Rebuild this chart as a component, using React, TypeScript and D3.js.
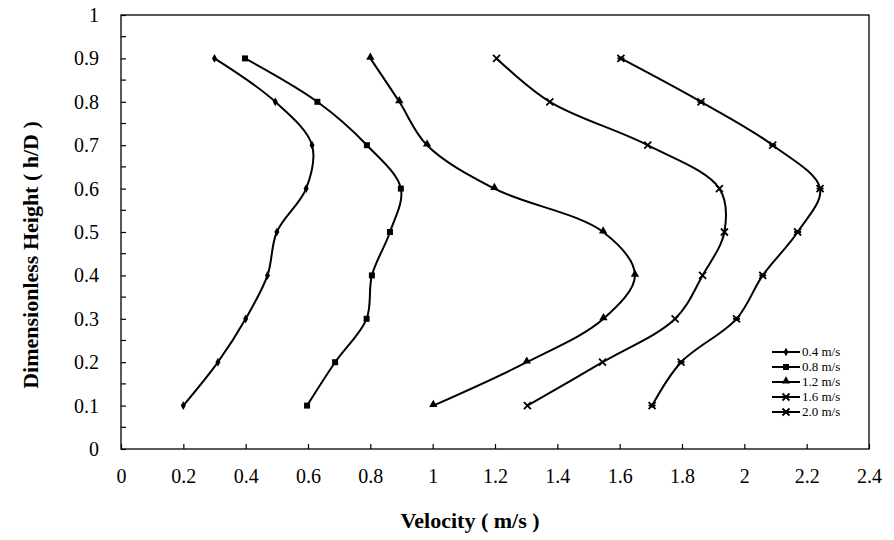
import React, { useRef, useEffect } from "react";
import * as d3 from "d3";

// heights (h/D) shared by every profile
const heights = [0.9, 0.8, 0.7, 0.6, 0.5, 0.4, 0.3, 0.2, 0.1];

const v04 = [0.3, 0.495, 0.613, 0.594, 0.5, 0.47, 0.4, 0.311, 0.2];
const v08 = [0.398, 0.63, 0.789, 0.898, 0.863, 0.805, 0.788, 0.687, 0.597];
const v12 = [0.8, 0.893, 0.982, 1.198, 1.547, 1.649, 1.548, 1.302, 1.002];
const v16 = [1.205, 1.376, 1.69, 1.92, 1.936, 1.866, 1.778, 1.545, 1.304];
const v20 = [1.604, 1.861, 2.091, 2.243, 2.171, 2.059, 1.975, 1.797, 1.704];

const seriesNames = ["0.4 m/s", "0.8 m/s", "1.2 m/s", "1.6 m/s", "2.0 m/s"];
const seriesValues = [v04, v08, v12, v16, v20];
const markerKinds = ["diamond", "square", "triangle", "cross", "star"];

const xTicks = [0, 0.2, 0.4, 0.6, 0.8, 1, 1.2, 1.4, 1.6, 1.8, 2, 2.2, 2.4];
const yTicks = [0, 0.1, 0.2, 0.3, 0.4, 0.5, 0.6, 0.7, 0.8, 0.9, 1];

const FONT = "Liberation Serif, Times New Roman, serif";

const drawMarker = (g, kind, x, y) => {
  if (kind === "diamond") {
    g.append("path")
      .attr("d", d3.symbol(d3.symbolDiamond, 22)())
      .attr("transform", `translate(${x},${y})`)
      .attr("fill", "black");
  } else if (kind === "square") {
    g.append("rect")
      .attr("x", x - 3).attr("y", y - 3)
      .attr("width", 6).attr("height", 6)
      .attr("fill", "black");
  } else if (kind === "triangle") {
    g.append("path")
      .attr("d", d3.symbol(d3.symbolTriangle, 30)())
      .attr("transform", `translate(${x},${y - 1})`)
      .attr("fill", "black");
  } else if (kind === "cross") {
    g.append("path")
      .attr("d", `M${x - 3.5},${y - 3.5}L${x + 3.5},${y + 3.5}M${x - 3.5},${y + 3.5}L${x + 3.5},${y - 3.5}`)
      .attr("stroke", "black").attr("stroke-width", 1.8);
  } else {
    g.append("path")
      .attr("d", `M${x - 3.5},${y - 3.5}L${x + 3.5},${y + 3.5}M${x - 3.5},${y + 3.5}L${x + 3.5},${y - 3.5}M${x - 3.5},${y}L${x + 3.5},${y}`)
      .attr("stroke", "black").attr("stroke-width", 1.8);
    g.append("rect")
      .attr("x", x - 2).attr("y", y - 2)
      .attr("width", 4).attr("height", 4)
      .attr("fill", "black");
  }
};

const App = () => {
  const ref = useRef(null);
  const width = 894;
  const height = 540;

  useEffect(() => {
    const svg = d3.select(ref.current);
    svg.selectAll("*").remove();

    const margin = { top: 15, right: 25, bottom: 91, left: 121 };
    const innerWidth = width - margin.left - margin.right;
    const innerHeight = height - margin.top - margin.bottom;

    const xScale = d3.scaleLinear().domain([0, 2.4]).range([0, innerWidth]);
    const yScale = d3.scaleLinear().domain([0, 1]).range([innerHeight, 0]);

    const g = svg.append("g").attr("transform", `translate(${margin.left},${margin.top})`);

    // frame
    g.append("rect")
      .attr("width", innerWidth).attr("height", innerHeight)
      .attr("fill", "none").attr("stroke", "black").attr("stroke-width", 1.3);

    // x ticks (inside)
    const xAxis = d3.axisBottom(xScale).tickValues(xTicks).tickSize(-5).tickPadding(20)
      .tickFormat((d) => d3.format("~g")(d));
    const xAxisG = g.append("g").attr("transform", `translate(0,${innerHeight})`).call(xAxis);
    xAxisG.select(".domain").remove();
    xAxisG.selectAll("line").attr("stroke-width", 1.2);
    xAxisG.selectAll("text").attr("font-family", FONT).attr("font-size", 20).attr("fill", "black");

    // y ticks (inside), minor every 0.05
    const yMinor = d3.range(0.05, 1, 0.1);
    g.selectAll(".ymin").data(yMinor).enter().append("line")
      .attr("x1", 0).attr("x2", 5)
      .attr("y1", (d) => yScale(d)).attr("y2", (d) => yScale(d))
      .attr("stroke", "black").attr("stroke-width", 1.2);
    const yAxis = d3.axisLeft(yScale).tickValues(yTicks).tickSize(-5).tickPadding(22)
      .tickFormat((d) => d3.format("~g")(d));
    const yAxisG = g.append("g").call(yAxis);
    yAxisG.select(".domain").remove();
    yAxisG.selectAll("line").attr("stroke-width", 1.2);
    yAxisG.selectAll("text").attr("font-family", FONT).attr("font-size", 20).attr("fill", "black");

    // axis titles
    svg.append("text")
      .attr("x", 470).attr("y", 528)
      .attr("text-anchor", "middle")
      .attr("font-family", FONT).attr("font-weight", "bold").attr("font-size", 22)
      .text("Velocity ( m/s )");
    svg.append("text")
      .attr("transform", `translate(38,255) rotate(-90)`)
      .attr("text-anchor", "middle")
      .attr("font-family", FONT).attr("font-weight", "bold").attr("font-size", 22)
      .text("Dimensionless Height ( h/D )");

    const lineGen = d3.line()
      .x((d) => xScale(d[0]))
      .y((d) => yScale(d[1]))
      .curve(d3.curveCatmullRom.alpha(0.5));

    seriesValues.forEach((vals, i) => {
      const pts = vals.map((v, j) => [v, heights[j]]);
      g.append("path")
        .attr("d", lineGen(pts))
        .attr("fill", "none").attr("stroke", "black").attr("stroke-width", 2);
      pts.forEach((p) => drawMarker(g, markerKinds[i], xScale(p[0]), yScale(p[1])));
    });

    // legend
    const lg = svg.append("g").attr("transform", "translate(772,352)");
    seriesNames.forEach((name, i) => {
      const row = lg.append("g").attr("transform", `translate(0,${i * 15})`);
      row.append("line").attr("x1", 0).attr("x2", 28).attr("y1", 0).attr("y2", 0)
        .attr("stroke", "black").attr("stroke-width", 2);
      drawMarker(row, markerKinds[i], 14, 0);
      row.append("text").attr("x", 30).attr("y", 4)
        .attr("font-family", FONT).attr("font-size", 13).text(name);
    });
  }, []);

  return (
    <svg
      ref={ref}
      width={width}
      height={height}
      style={{ position: "absolute", left: 0, top: 0, background: "white" }}
    />
  );
};

export default App;
